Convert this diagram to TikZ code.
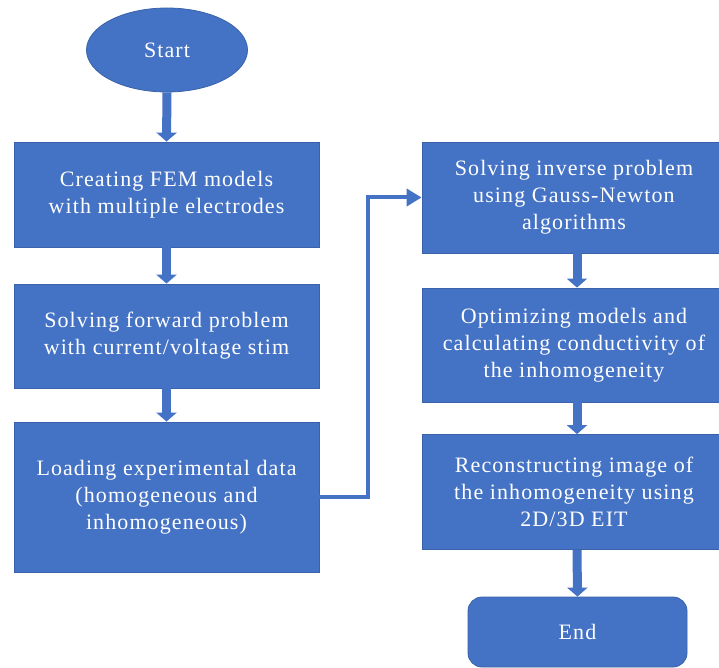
\documentclass[tikz,border=0pt]{standalone}
\usepackage{fontspec}
\setmainfont{Liberation Serif}[LetterSpace=5]
\usepackage{tikz}
\usetikzlibrary{arrows.meta,positioning,shapes.geometric}
\definecolor{boxblue}{RGB}{68,114,196}
\definecolor{edgeblue}{RGB}{58,98,170}
\tikzstyle{process}=[draw=edgeblue,line width=0.8pt,fill=boxblue,text=white,align=center,inner sep=0pt,font=\fontsize{22}{27}\selectfont]
\tikzstyle{leftbox}=[process,minimum width=305pt]
\tikzstyle{rightbox}=[process,minimum width=304pt]
\tikzstyle{terminal}=[process,ellipse,minimum width=161pt,minimum height=84pt]
\tikzstyle{flow}=[boxblue,line width=9pt,-{Triangle[width=20pt,length=9pt]}]
\tikzstyle{link}=[boxblue,line width=4pt,-{Triangle[width=17pt,length=15pt]}]

\begin{document}
\begin{tikzpicture}[x=1pt,y=-1pt]
\useasboundingbox (0,0) rectangle (719,668);
% left column
\node [terminal] (start) at (167,50) {Start};
\node [leftbox,minimum height=105pt] (fem) at (166.5,194.5) {Creating FEM models\\with multiple electrodes};
\node [leftbox,minimum height=104pt] (forward) at (166.5,336) {Solving forward problem\\with current/voltage stim};
\node [leftbox,minimum height=150pt] (data) at (166.5,497) {Loading experimental data\\(homogeneous and\\inhomogeneous)};
% right column
\node [rightbox,minimum height=111pt] (inverse) at (574,197.5) {Solving inverse problem\\using Gauss-Newton\\algorithms};
\node [rightbox,minimum height=114pt] (optim) at (574,345) {Optimizing models and\\calculating conductivity of\\the inhomogeneity};
\node [rightbox,minimum height=115pt] (recon) at (574,492) {Reconstructing image of\\the inhomogeneity using\\2D/3D EIT};
\node [process,rounded corners=14pt,minimum width=219pt,minimum height=70pt] (end) at (577.5,632) {End};

\draw [flow] (start.south) -- (fem.north);
\draw [flow] (fem.south) -- (forward.north);
\draw [flow] (forward.south) -- (data.north);
\draw [link] (data.east) -- ++(49,0) |- (inverse.west);
\draw [flow] ([xshift=3pt]inverse.south) -- ([xshift=3pt]optim.north);
\draw [flow] ([xshift=3pt]optim.south) -- ([xshift=3pt]recon.north);
\draw [flow] ([xshift=3pt]recon.south) -- (end.north);
\end{tikzpicture}
\end{document}
